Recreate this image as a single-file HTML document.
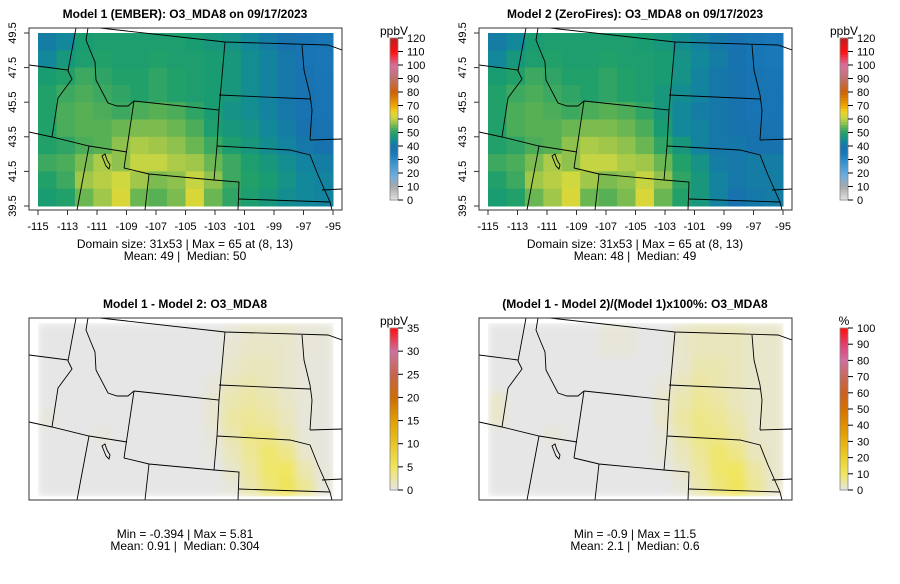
<!DOCTYPE html>
<html><head><meta charset="utf-8">
<style>
body{margin:0;background:#fff;font-family:"Liberation Sans",sans-serif;}
svg text{font-family:"Liberation Sans",sans-serif;fill:#000;white-space:pre;}
</style></head>
<body>
<svg id="chart" width="900" height="579" viewBox="0 0 900 579" xmlns="http://www.w3.org/2000/svg">
<defs><filter id="soft" x="0" y="0" width="1" height="1"><feGaussianBlur stdDeviation="4"/></filter></defs>
</svg>
<script>
// ---- data ----
const lonTicks=[-115,-113,-111,-109,-107,-105,-103,-101,-99,-97,-95];
const latTicks=[39.5,41.5,43.5,45.5,47.5,49.5];
const scaleTicksA=[0,10,20,30,40,50,60,70,80,90,100,110,120];
const scaleTicksDiff=[0,5,10,15,20,25,30,35];
const scaleTicksPct=[0,10,20,30,40,50,60,70,80,90,100];
const model1=[
[42,44,48,49,49,49,49,49,48,47,46,44,42,40,38,36],
[44,47,49,50,49,49,50,49,49,48,47,45,43,41,38,36],
[48,50,52,51,50,50,51,50,49,48,47,45,43,41,39,37],
[50,52,53,52,51,50,51,50,49,48,47,45,43,41,39,38],
[50,53,54,53,52,53,54,53,51,48,46,45,43,41,39,38],
[50,53,54,54,55,56,56,55,53,49,47,46,44,42,40,39],
[50,51,53,54,57,59,58,57,55,52,49,47,45,43,41,40],
[52,53,56,59,57,61,61,59,58,55,52,49,47,45,43,42],
[50,52,58,60,62,58,56,57,61,57,52,50,48,46,44,43],
[48,50,55,58,63,55,54,56,63,55,51,49,47,45,44,43]];
const model2=[
[42,44,48,49,49,49,49,49,48,47,45,43,41,39,37,35],
[44,47,49,50,49,49,50,49,49,48,46,44,42,40,37,35],
[48,50,52,51,50,50,51,50,49,48,46,43,41,40,38,37],
[50,52,53,52,51,50,51,50,49,47,45,43,41,40,38,38],
[50,53,54,53,52,53,54,53,51,47,44,42,41,40,38,38],
[50,53,54,54,55,56,56,55,53,48,44,43,41,40,39,39],
[50,51,53,54,57,59,58,57,55,51,47,43,41,41,40,40],
[52,53,56,59,57,61,61,59,58,55,50,46,42,41,42,42],
[50,52,58,60,62,58,56,57,61,57,51,47,43,41,42,42],
[48,50,55,58,63,55,54,56,63,55,50,47,43,40,41,42]];
const diffVals=[
[0,0,0,0,0,0,0,0,0,0,0.5,1,1,1,0.5,0.5],
[0,0,0,0,0,0,0,0,0,0,0.8,1.2,1.2,1,0.5,0.5],
[0,0,0,0,0,0,0,0,0,0,1,1.5,1.5,1,0.5,0.3],
[0,0,0,0,0,0,0,0,0,0.5,1.5,2,1.5,1,0.5,0.3],
[0,0,0,0,0,0,0,0,0,0.8,2,2.5,2,1.2,0.5,0.3],
[0.4,0,0,0,0,0,0,0,0,0.8,2.5,3,2.5,1.5,0.5,0.3],
[0,0,0,0.4,0,0,0,0,0,0.5,2,3.5,3.5,2,0.5,0.3],
[0,0,0,0,0,0,0,0,0,0.3,1.5,3,4.5,3.5,1,0.3],
[0,0,0,0,0,0,0,0,0,0,1,2.5,4.5,5,2,0.5],
[0,0,0,0,0,0,0,0,0,0,0.5,2,4,5.5,3,0.5]];
const pctVals=[
[0,0,0,0,0,0,1,1,0,0,2,3,3,3,2,2],
[0,0,0,0,0,0,1,1,0,0,2,3,3,3,2,2],
[0,0,0,0,0,0,0,0,0,0,2,4,4,3,2,2],
[0,0,0,0,0,0,0,0,0,1,3,5,4,3,2,2],
[2,0,0,0,0,0,0,0,0,2,4,6,5,3,2,2],
[2,0,0,0,0,0,0,0,0,2,5,7,6,4,2,2],
[0,0,0,1,0,0,0,0,0,1,4,7,7,5,2,2],
[0,0,0,0,0,0,0,0,0,1,3,6,9,7,3,2],
[0,0,0,0,0,0,0,0,0,0,2,5,9,10,5,2],
[0,0,0,0,0,0,0,0,0,0,1,4,8,11,6,2]];

// ---- colour maps ----
const cmapA=[[0,'#e6e6e6'],[10,'#a8a8a8'],[18,'#70aee0'],[30,'#2a8ccc'],[35,'#1a78b8'],[40,'#1772ae'],[44,'#12889a'],[48,'#1a9c72'],[50,'#22a06a'],[54,'#58b054'],[58,'#a0c64a'],[62,'#d0d840'],[66,'#f0d020'],[70,'#f0a800'],[80,'#d06000'],[90,'#c07068'],[100,'#d870a0'],[110,'#ff1010'],[120,'#c02020']];
const cmapDiff=[[0,'#e6e6e6'],[5,'#f0e660'],[10,'#e8c428'],[15,'#e0a000'],[20,'#d06c00'],[25,'#c86448'],[30,'#d070a0'],[35,'#ff1010']];
const cmapPct=[[0,'#e6e6e6'],[10,'#f0e660'],[20,'#ecd030'],[30,'#e8b010'],[40,'#e09000'],[50,'#d87000'],[60,'#cc6020'],[70,'#c86858'],[80,'#d070a0'],[90,'#e04070'],[100,'#ff1010']];
function hex(h){return [1,3,5].map(i=>parseInt(h.substr(i,2),16));}
function colorAt(cm,v){
  if(v<=cm[0][0])return cm[0][1];
  for(let i=1;i<cm.length;i++){if(v<=cm[i][0]){const t=(v-cm[i-1][0])/(cm[i][0]-cm[i-1][0]);const a=hex(cm[i-1][1]),b=hex(cm[i][1]);return 'rgb('+a.map((x,k)=>Math.round(x+(b[k]-x)*t)).join(',')+')';}}
  return cm[cm.length-1][1];
}
const svg=document.getElementById('chart');
const NS='http://www.w3.org/2000/svg';
function mk(tag,attrs,parent){const e=document.createElementNS(NS,tag);for(const k in attrs)e.setAttribute(k,attrs[k]);(parent||svg).appendChild(e);return e;}
const borders=[
[[76,28],[68,71],[72,79],[58,98],[52,137]],
[[29,65],[68,70]],
[[29,132],[52,137],[89,146],[127,152]],
[[88,28],[86,40],[90,50],[95,62],[96,80],[108,103],[117,106],[128,106],[134,101]],
[[134,101],[124,168]],
[[124,168],[149,174],[214,180]],
[[134,101],[219,110],[217,146],[214,180]],
[[100,28],[225,42],[328,45],[342,50]],
[[225,42],[219,110]],
[[219,95],[310,99]],
[[302,45],[304,70],[310,95],[312,110],[310,140]],
[[217,146],[290,150],[310,155],[318,175],[330,202],[332,210]],
[[310,140],[342,139]],
[[214,180],[239,182],[238,210]],
[[239,199],[330,202]],
[[89,146],[77,210]],
[[149,174],[145,210]],
[[322,190],[342,189]]];
function panel(id,ox,oy,grid,cm,ticksV,vmax,unit,title,stat1,stat2,axes,blur){
  const g=mk('g',{});
  
  
  const gx=38+ox, gy=33+oy, W=295, H=173;
  const rows=grid.length, cols=grid[0].length;
  const xs=c=>gx+c*W/cols, ys=r=>gy+r*H/rows;
  const hm=mk('g',blur?{filter:'url(#soft)'}:{},g);
  
  
  if(blur) mk('rect',{x:gx,y:gy,width:W,height:H,fill:colorAt(cm,0)},hm);
  grid.forEach((row,r)=>row.forEach((v,c)=>{
    const cell=mk('rect',{x:xs(c),y:ys(r),width:W/cols+0.5,height:H/rows+0.5,fill:colorAt(cm,v)},hm);
    
    
  }));
  const bg=mk('g',{fill:'none',stroke:'#000','stroke-width':0.9},g);
  
  
  const cpb=mk('clipPath',{id:'cb'+id},g);mk('rect',{x:29+ox,y:28+oy,width:313,height:182},cpb);
  bg.setAttribute('clip-path','url(#cb'+id+')');
  borders.forEach(b=>mk('polyline',{points:b.map(p=>(p[0]+ox)+','+(p[1]+oy)).join(' ')},bg));
  mk('path',{d:`M${102+ox},${156+oy} l3,-2 l2,6 l3,5 l-1,4 l-3,-3 l-2,-5z`},bg);
  const box=mk('rect',{x:29+ox,y:28+oy,width:313,height:182,fill:'none',stroke:'#333','stroke-width':1},g);
  
  
  const t=mk('text',{x:185+ox,y:18+oy,'text-anchor':'middle','font-size':12,'font-weight':'bold'},g);t.textContent=title;
  
  
  if(axes){
    const lx=v=>gx+(v+115)/20*W, ly=v=>gy+(49.5-v)/10*H;
    lonTicks.forEach(v=>{mk('line',{x1:lx(v),x2:lx(v),y1:210+oy,y2:215+oy,stroke:'#333'},g);
      const tx=mk('text',{x:lx(v),y:230+oy,'text-anchor':'middle','font-size':11},g);tx.textContent=v;
      
      });
    mk('line',{x1:lx(-115),x2:lx(-95),y1:210+oy,y2:210+oy,stroke:'#333'},g);
    latTicks.forEach(v=>{mk('line',{x1:29+ox,x2:24+ox,y1:ly(v),y2:ly(v),stroke:'#333'},g);
      const ty=mk('text',{x:16+ox,y:ly(v),'text-anchor':'middle','font-size':11,transform:`rotate(-90 ${16+ox} ${ly(v)})`},g);ty.textContent=v.toFixed(1);
      
      });
    mk('line',{x1:29+ox,x2:29+ox,y1:ly(49.5),y2:ly(39.5),stroke:'#333'},g);
  }
  const sy=248;
  const s1=mk('text',{x:185+ox,y:sy+oy,'text-anchor':'middle','font-size':12},g);s1.textContent=stat1;
  
  
  const s2=mk('text',{x:185+ox,y:sy+12+oy,'text-anchor':'middle','font-size':12},g);s2.textContent=stat2;
  
  
  const cx=390+ox, ct=38+oy, cb=200+oy, ch=cb-ct;
  const leg=mk('g',{},g);
  
  
  const n=60;
  for(let i=0;i<n;i++){const v=vmax*(i+0.5)/n;mk('rect',{x:cx,y:cb-(i+1)*ch/n,width:8,height:ch/n+0.6,fill:colorAt(cm,v)},leg);}
  mk('rect',{x:cx,y:ct,width:8,height:ch,fill:'none',stroke:'#888','stroke-width':0.8},leg);
  ticksV.forEach(v=>{const y=cb-v/vmax*ch;mk('line',{x1:cx+8,x2:cx+13,y1:y,y2:y,stroke:'#000'},leg);
    const lt=mk('text',{x:cx+17,y:y+4,'font-size':11},leg);lt.textContent=v;
    
    });
  const u=mk('text',{x:cx+4,y:ct-3,'text-anchor':'middle','font-size':12},leg);u.textContent=unit;
  
  
}
panel('panel-model1',0,0,model1,cmapA,scaleTicksA,120,'ppbV','Model 1 (EMBER): O3_MDA8 on 09/17/2023','Domain size: 31x53 | Max = 65 at (8, 13)','Mean: 49 |  Median: 50',true,false);
panel('panel-model2',450,0,model2,cmapA,scaleTicksA,120,'ppbV','Model 2 (ZeroFires): O3_MDA8 on 09/17/2023','Domain size: 31x53 | Max = 65 at (8, 13)','Mean: 48 |  Median: 49',true,false);
panel('panel-diff',0,290,diffVals,cmapDiff,scaleTicksDiff,35,'ppbV','Model 1 - Model 2: O3_MDA8','Min = -0.394 | Max = 5.81','Mean: 0.91 |  Median: 0.304',false,true);
panel('panel-pct',450,290,pctVals,cmapPct,scaleTicksPct,100,'%','(Model 1 - Model 2)/(Model 1)x100%: O3_MDA8','Min = -0.9 | Max = 11.5','Mean: 2.1 |  Median: 0.6',false,true);
</script>
</body></html>
